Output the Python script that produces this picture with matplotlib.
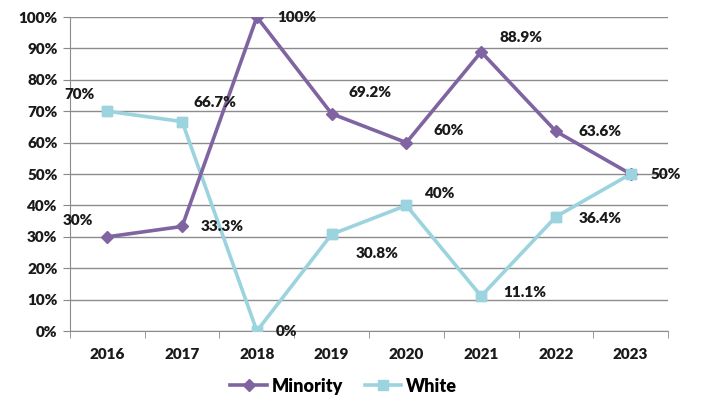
import matplotlib.pyplot as plt
from matplotlib.ticker import FixedLocator, PercentFormatter

years = ['2016', '2017', '2018', '2019', '2020', '2021', '2022', '2023']
minority = [30, 33.3, 100, 69.2, 60, 88.9, 63.6, 50]
white = [70, 66.7, 0, 30.8, 40, 11.1, 36.4, 50]
minority_labels = ['30%', '33.3%', '100%', '69.2%', '60%', '88.9%', '63.6%', '50%']
white_labels = ['70%', '66.7%', '0%', '30.8%', '40%', '11.1%', '36.4%', '']

# label offsets in pixels
minority_off = [(-30, 16), (40, 0), (40, 0), (38, 21), (42, 12), (40, 14), (44, 0), (35, 0)]
white_off = [(-28, 17), (33, 19), (30, 0), (45, -19), (34, 12), (44, 4), (44, -2), (0, 0)]

purple = '#8064A2'
blue = '#9BD3DE'
W = 'heavy'

plt.rcParams['font.family'] = ['Lato', 'DejaVu Sans']

fig = plt.figure(figsize=(7.02, 4.11), dpi=100)
ax = fig.add_axes([0.0997, 0.1946, 0.8519, 0.764])

x = list(range(len(years)))
ax.plot(x, minority, color=purple, lw=2.6, marker='D', ms=6.5, label='Minority', zorder=3)
ax.plot(x, white, color=blue, lw=2.6, marker='s', ms=7, label='White', zorder=2)
ax.plot(x, white, color=blue, ls='none', marker='s', ms=7, zorder=4)

for i, (v, t) in enumerate(zip(minority, minority_labels)):
    ax.annotate(t, (i, v), xytext=minority_off[i], textcoords='offset pixels',
                ha='center', va='center', fontsize=11, fontweight=W, color='#1a1a1a')
for i, (v, t) in enumerate(zip(white, white_labels)):
    if t:
        ax.annotate(t, (i, v), xytext=white_off[i], textcoords='offset pixels',
                    ha='center', va='center', fontsize=11, fontweight=W, color='#1a1a1a')

ax.set_xlim(-0.5, 7.5)
ax.set_ylim(0, 100)
ax.set_yticks(range(0, 101, 10))
ax.yaxis.set_major_formatter(PercentFormatter(decimals=0))
ax.set_xticks(x)
ax.set_xticklabels(years)
ax.xaxis.set_minor_locator(FixedLocator([i + 0.5 for i in range(-1, 8)]))
ax.tick_params(axis='x', which='major', length=0, pad=12, labelsize=11)
ax.tick_params(axis='x', which='minor', length=5, color='#888888', direction='out')
ax.tick_params(axis='y', length=5, color='#888888', labelsize=11, pad=4)
for lab in ax.get_xticklabels() + ax.get_yticklabels():
    lab.set_fontweight(W)
    lab.set_color('#1a1a1a')

ax.grid(axis='y', color='#8c8c8c', lw=1)
ax.set_axisbelow(True)
for s in ['top', 'right']:
    ax.spines[s].set_visible(False)
ax.spines['left'].set_color('#8c8c8c')
ax.spines['bottom'].set_color('#8c8c8c')

leg = fig.legend(loc='lower center', bbox_to_anchor=(0.49, 0.0), ncol=2, frameon=False,
                 prop={'weight': W, 'size': 13}, handlelength=2.0, handletextpad=0.3,
                 columnspacing=1.2)

fig.savefig('out.png', dpi=100)
